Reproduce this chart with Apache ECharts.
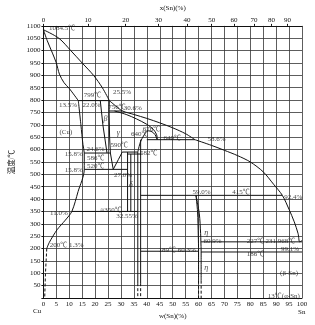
<!DOCTYPE html>
<html><head><meta charset="utf-8">
<script src="https://cdn.jsdelivr.net/npm/echarts@6/dist/echarts.min.js"></script>
<style>html,body{margin:0;padding:0;background:#fff}#c{width:315px;height:325px}</style>
</head><body><div id="c"></div>
<script>
// ---- axis definitions ----
const wTicksMin = 0, wTicksMax = 100, wStep = 5;
const tMin = 0, tMax = 1100, tStep = 50;
const topAxisLabels = ['0','10','20','30','40','50','60','70','80','90'];
const topAxisPosW = [0, 17.2, 31.8, 44.5, 55.5, 65.1, 73.7, 81.4, 88.2, 94.4];

// ---- phase boundary curves  [w(Sn) %, T °C] ----
const liquidusCu   = [[0,1084.5],[6,1050],[10.6,1000],[15,950],[19.4,900],[22.8,850],[25.5,798]];
const liquidusMid  = [[25.5,798],[28,776],[30.6,756],[35,742],[40,726],[45,708],[50,688],[55,664],[58.6,640]];
const liquidusSn   = [[58.6,640],[65,617],[70,597],[75,576],[80,550],[85,510],[89,460],[92.4,415],[95,358],[97,308],[98.5,260],[99.1,227],[100,231.968]];
const solidusCu    = [[0,1084.5],[1.5,1040],[3.5,990],[5,950],[6.2,905],[8,870],[10,847],[13.5,798]];
const alphaSolvus  = [[13.5,798],[14.5,700],[15.3,620],[15.8,586],[15.8,520],[13.4,430],[11.0,350],[8.5,315],[5.3,276],[2.3,225],[1.3,200]];
const alphaSolvusLow = [[1.3,200],[0.8,100],[0.5,0]];
const peritectic798 = [[13.5,798],[25.5,798]];
const betaLeft     = [[22.0,798],[23.0,700],[24.6,586]];
const gammaLeft    = [[25.5,798],[25.4,756],[25.6,650],[25.9,586],[27.0,520]];
const line756      = [[25.4,756],[30.6,756]];
const line586      = [[15.8,586],[25.9,586]];
const line520      = [[15.8,520],[32.55,520]];
const gammaRight   = [[27.0,520],[29,560],[30.5,590]];
const gammaSolidus = [[27.5,756],[32,742],[36,724],[40,702],[42.5,682],[43.8,660],[44,640]];
const line640      = [[40,640],[58.6,640]];
const epsDome      = [[36.5,590],[37.5,630],[39,660],[40.5,676],[42,672],[43.2,660],[44,640]];
const line590      = [[30.5,590],[36.5,590]];
const line582      = [[32.5,582],[38.0,582]];
const deltaLeft    = [[32.55,590],[32.55,350]];
const deltaRight   = [[33.8,582],[33.8,350]];
const epsLeft      = [[36.5,590],[36.5,60]];
const epsLeftLow   = [[36.5,60],[36.5,0]];
const epsRight     = [[37.6,640],[37.6,60]];
const epsRightLow  = [[37.6,60],[37.6,0]];
const line350      = [[11.0,350],[36.5,350]];
const line415      = [[37.6,415],[92.4,415]];
const etaLeft      = [[59.0,415],[59.6,350],[59.9,250],[60.0,189],[60.0,70]];
const etaLeftLow   = [[60.0,70],[60.0,0]];
const etaRight     = [[59.0,415],[60.3,340],[60.8,260],[60.9,227],[61.0,189],[61.0,70]];
const etaRightLow  = [[61.0,70],[61.0,0]];
const line227      = [[60.9,227],[100,227]];
const line189      = [[37.6,189],[60.0,189]];
const line186      = [[60.9,186],[100,186]];

// ---- annotation texts ----
const annotationTexts = ['1084.5℃','799℃','22.0%','13.5%','25.5%','756℃','30.6%','β','(Cu)','γ','676℃','640℃','640℃','58.6%','590℃','582℃','24.6%','15.8%','586℃','520℃','15.8%','27.0%','δ','≈350℃','32.55%','11.0%','200℃ 1.3%','59.0%','415℃','92.4%','η','60.9%','227℃','231.968℃','99.1%','189℃ 60.3%','186℃','η','(β-Sn)','13℃(α-Sn)'];
const annotationAt = [[7.2,1092],[19,820],[18.6,781],[9.5,781],[30.4,832],[28.5,773],[34.6,766],[24,723],[8.7,672],[29,668],[41.8,684],[37.3,661],[49.8,645],[67,641],[29.3,618],[40.7,587],[20.2,602],[11.8,583],[20.2,567],[20.2,532],[11.8,517],[30.8,497],[33.8,459],[26.2,354],[32.3,330],[6,342],[9,214],[61.2,427],[76.4,427],[96.6,408],[63,264],[65.4,229],[82,229],[91.6,229],[95.4,198],[51.7,194],[82,179],[63,120],[95,101],[93,8]];

const FONT = "'Liberation Serif','Noto Sans CJK SC',serif";
const INK = '#111';

const curves = [
  [liquidusCu,true],[liquidusMid,true],[liquidusSn,true],[solidusCu,true],[alphaSolvus,true],
  [peritectic798,false],[betaLeft,false],[gammaLeft,false],[line756,false],[line586,false],[line520,false],
  [gammaRight,false],[gammaSolidus,true],[line640,false],[epsDome,true],[line590,false],[line582,false],
  [deltaLeft,false],[deltaRight,false],[epsLeft,false],[epsRight,false],[line350,false],[line415,false],
  [etaLeft,true],[etaRight,true],[line227,false],[line189,false],[line186,false]
];
const dashed = [alphaSolvusLow, epsLeftLow, epsRightLow, etaLeftLow, etaRightLow];

const series = [];
curves.forEach(([d,sm]) => series.push({
  type:'line', data:d, symbol:'none', smooth: sm ? 0.3 : false, silent:true, animation:false,
  lineStyle:{color:INK, width:1}, xAxisIndex:0, yAxisIndex:0
}));
dashed.forEach(d => series.push({
  type:'line', data:d, symbol:'none', silent:true, animation:false,
  lineStyle:{color:INK, width:1, type:[3,2]}, xAxisIndex:0, yAxisIndex:0
}));
const greek = new Set(['β','γ','δ','η']);
series.push({
  type:'scatter', symbolSize:0, silent:true, animation:false, clip:false,
  data: annotationTexts.map((t,i)=>({value:annotationAt[i], name:t})),
  label:{show:true, position:'inside', color:INK, fontFamily:FONT, fontSize:7,
    formatter:p=>greek.has(p.name)?'{g|'+p.name+'}':p.name,
    rich:{g:{fontStyle:'italic', fontSize:8, fontFamily:FONT, color:INK}}}
});

const chart = echarts.init(document.getElementById('c'), null, {renderer:'canvas'});
chart.setOption({
  backgroundColor:'#fff',
  animation:false,
  grid:{left:39, right:13, top:15, bottom:27},
  xAxis:[{
    type:'value', position:'bottom', min:wTicksMin, max:wTicksMax, interval:wStep,
    name:'w(Sn)(%)', nameLocation:'middle', nameGap:13,
    nameTextStyle:{fontFamily:FONT, fontSize:7, color:INK},
    axisLine:{lineStyle:{color:INK, width:1}}, axisTick:{show:false},
    axisLabel:{fontFamily:FONT, fontSize:7, color:INK, margin:3, formatter:v=>String(v)},
    splitLine:{show:true, lineStyle:{color:'#333', width:0.8}}
  },{
    type:'value', position:'top', min:wTicksMin, max:wTicksMax,
    name:'x(Sn)(%)', nameLocation:'middle', nameGap:10,
    nameTextStyle:{fontFamily:FONT, fontSize:7, color:INK},
    axisLine:{lineStyle:{color:INK, width:1}},
    axisTick:{show:true, inside:false, length:2, customValues:topAxisPosW, lineStyle:{color:INK}},
    axisLabel:{fontFamily:FONT, fontSize:7, color:INK, margin:2, customValues:topAxisPosW,
      formatter:v=>{const i=topAxisPosW.findIndex(p=>Math.abs(p-v)<1e-6);return i>=0?topAxisLabels[i]:'';}},
    splitLine:{show:false}
  }],
  yAxis:[{
    type:'value', min:tMin, max:tMax, interval:tStep,
    name:'温度/℃', nameLocation:'middle', nameGap:24, nameRotate:90,
    nameTextStyle:{fontFamily:FONT, fontSize:7.5, color:INK},
    axisLine:{show:true, lineStyle:{color:INK, width:1}},
    axisTick:{show:true, length:2, lineStyle:{color:INK}},
    axisLabel:{fontFamily:FONT, fontSize:7, color:INK, margin:3, formatter:v=>v===0?'':String(v)},
    splitLine:{show:true, lineStyle:{color:'#333', width:0.8}}
  }],
  graphic:[
    {type:'text', left:33, top:308, style:{text:'Cu', font:"7px "+FONT, fill:INK}},
    {type:'text', left:298, top:309, style:{text:'Sn', font:"7px "+FONT, fill:INK}}
  ],
  series
});
</script></body></html>
